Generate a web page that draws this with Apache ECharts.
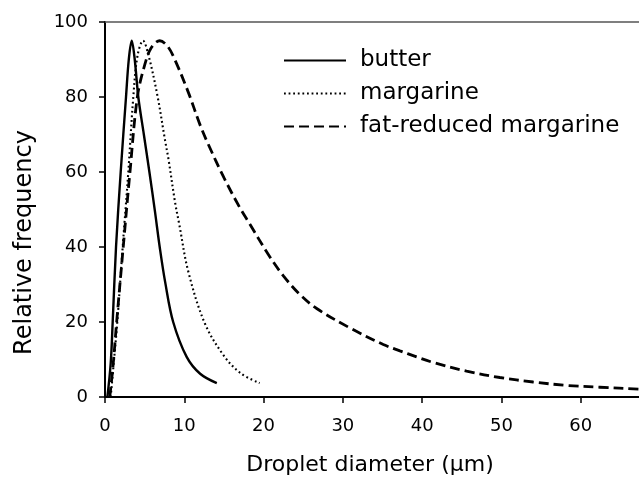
<!DOCTYPE html>
<html><head><meta charset="utf-8">
<script src="https://cdn.jsdelivr.net/npm/echarts@6/dist/echarts.min.js"></script>
<style>html,body{margin:0;padding:0;background:#fff}#c{width:639px;height:483px}</style>
</head><body><div id="c"></div>
<script>
const seriesNames = ['butter', 'margarine', 'fat-reduced margarine'];
const xAxisName = 'Droplet diameter (µm)';
const yAxisName = 'Relative frequency';

const butterX = [0.3, 0.72, 0.97, 1.39, 1.98, 2.65, 3.0, 3.37, 3.75, 4.2, 4.9, 5.6, 6.3, 6.9, 7.6, 8.6, 10.3, 12.0, 14.1];
const butterY = [0, 9, 20, 40, 60, 80, 90, 95, 90, 80, 70, 60, 49.5, 40, 30.5, 20, 10.7, 6.2, 3.7];

const margarineX = [0.72, 1.1, 1.55, 2.23, 2.94, 3.57, 4.1, 4.8, 5.5, 6.6, 7.57, 8.0, 8.83, 9.37, 10.5, 12.6, 15.1, 17.2, 19.5];
const margarineY = [0, 9, 20, 40, 60, 80, 91, 95, 91, 80.5, 68.5, 63.5, 52, 46, 33.5, 19.6, 10.7, 6.2, 3.7];

const fatReducedX = [0.6, 1.0, 1.47, 2.3, 3.15, 4.08, 5.0, 5.8, 6.9, 7.9, 8.8, 10.5, 12.0, 13.0, 15.0, 17.0, 18.3, 20.6, 22.5, 24.6, 26.7, 30.9, 35.1, 37.2, 39.3, 41.4, 45.6, 49.8, 54.0, 58.2, 62.4, 67.3, 70.0];
const fatReducedY = [0, 8, 20, 40, 60, 80, 88.5, 93, 95, 93.5, 90, 81.3, 72.5, 67.5, 58.5, 50.5, 46, 38, 32.3, 27.3, 23.6, 18.4, 14.0, 12.3, 10.7, 9.2, 6.9, 5.2, 4.0, 3.1, 2.6, 2.1, 1.8];

const pairs = (xs, ys) => xs.map((x, i) => [x, ys[i]]);
const FONT = 'DejaVu Sans';

const chart = echarts.init(document.getElementById('c'), null, {renderer: 'canvas'});
chart.setOption({
  animation: false,
  backgroundColor: '#fff',
  grid: {left: 105, right: -21, top: 22, bottom: 86, containLabel: false, outerBoundsMode: 'none'},
  legend: {
    orient: 'vertical', left: 283, top: 49, padding: 0,
    itemWidth: 62, itemHeight: 14, itemGap: 10,
    itemStyle: {opacity: 0, borderWidth: 0},
    textStyle: {fontFamily: FONT, fontSize: 23, color: '#000', padding: [0, 0, 0, 9]},
    data: seriesNames
  },
  xAxis: [{
    type: 'value', min: 0, max: 70, interval: 10,
    name: xAxisName, nameLocation: 'middle', nameGap: 57,
    nameTextStyle: {fontFamily: FONT, fontSize: 22, color: '#000', padding: [0, 25, 0, 0]},
    axisLine: {show: true, onZero: false, lineStyle: {color: '#000', width: 2}},
    axisTick: {show: true, inside: false, length: 6, lineStyle: {color: '#000', width: 1.5}},
    axisLabel: {fontFamily: FONT, fontSize: 18, color: '#000', margin: 20},
    splitLine: {show: false}
  }, {
    type: 'value', position: 'top', min: 0, max: 70,
    axisLine: {show: true, onZero: false, lineStyle: {color: '#555', width: 1.5}},
    axisTick: {show: false}, axisLabel: {show: false}, splitLine: {show: false}
  }],
  yAxis: {
    type: 'value', min: 0, max: 100, interval: 20,
    name: yAxisName, nameLocation: 'middle', nameGap: 68, nameRotate: 90,
    nameTextStyle: {fontFamily: FONT, fontSize: 24, color: '#000', padding: [0, 66, 0, 0]},
    axisLine: {show: true, onZero: false, lineStyle: {color: '#000', width: 2}},
    axisTick: {show: true, inside: false, length: 6, lineStyle: {color: '#000', width: 1.5}},
    axisLabel: {fontFamily: FONT, fontSize: 18, color: '#000', margin: 17},
    splitLine: {show: false}
  },
  series: [
    {name: seriesNames[0], type: 'line', symbol: 'none', smooth: 0.35, data: pairs(butterX, butterY),
     lineStyle: {color: '#000', width: 2.4, type: 'solid'}, itemStyle: {color: '#000'}},
    {name: seriesNames[1], type: 'line', symbol: 'none', smooth: 0.35, data: pairs(margarineX, margarineY),
     lineStyle: {color: '#000', width: 2.1, type: [1.8, 2.8]}, itemStyle: {color: '#000'}},
    {name: seriesNames[2], type: 'line', symbol: 'none', smooth: 0.35, data: pairs(fatReducedX, fatReducedY),
     lineStyle: {color: '#000', width: 2.8, type: [10, 5]}, itemStyle: {color: '#000'}}
  ]
});
</script></body></html>
